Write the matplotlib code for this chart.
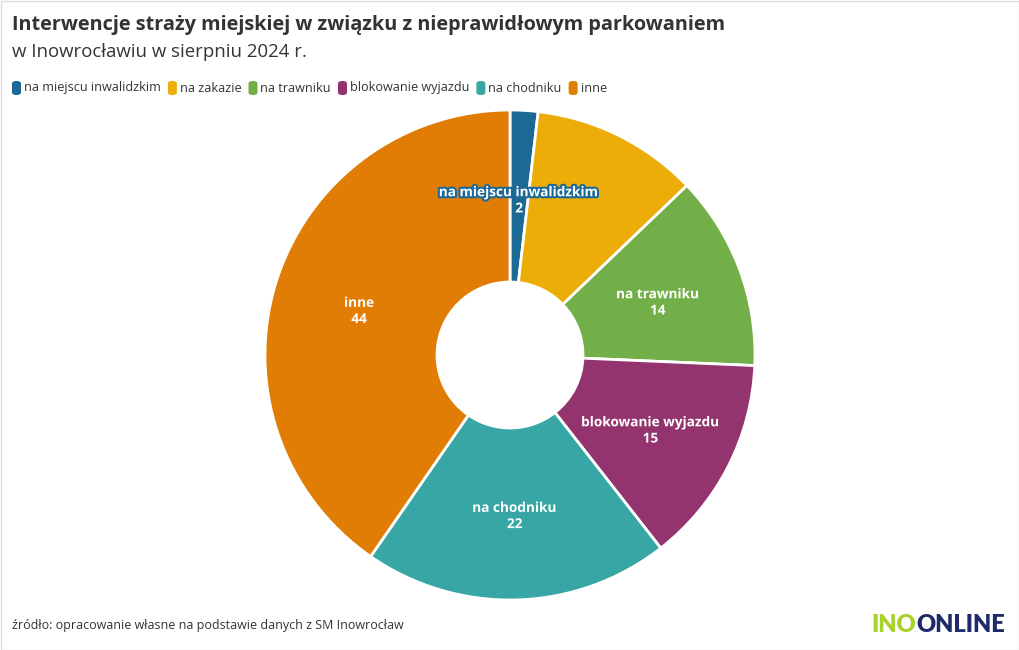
import matplotlib
matplotlib.use("Agg")
import matplotlib.pyplot as plt
import matplotlib.patheffects as pe
from matplotlib.patches import FancyBboxPatch, Rectangle
import numpy as np

categories = ["na miejscu inwalidzkim", "na zakazie", "na trawniku",
              "blokowanie wyjazdu", "na chodniku", "inne"]
values = [2, 12, 14, 15, 22, 44]
show_label = [True, False, True, True, True, True]
colors = ["#1D6996", "#EDAD08", "#73AF48", "#94346E", "#38A6A5", "#E17C05"]

title = "Interwencje straży miejskiej w związku z nieprawidłowym parkowaniem"
subtitle = "w Inowrocławiu w sierpniu 2024 r."
source = "źródło: opracowanie własne na podstawie danych z SM Inowrocław"

FONT = "Open Sans"
W, H = 1020, 650
fig = plt.figure(figsize=(W / 100, H / 100), dpi=100)
fig.patch.set_facecolor("white")

# border
fig.add_artist(Rectangle((0.5 / W, 0.5 / H), 1 - 1.5 / W, 1 - 1.5 / H, transform=fig.transFigure,
                         fill=False, edgecolor="#dddddd", linewidth=1))

def px(x, y):
    return x / W, 1 - y / H

fig.text(*px(12, 25), title, fontsize=14.3, fontweight="bold", color="#333333",
         family=FONT, va="center", ha="left")
fig.text(*px(12, 52), subtitle, fontsize=13.4, color="#333333", family=FONT,
         va="center", ha="left")
fig.text(*px(12, 626), source, fontsize=9.0, color="#333333", family=FONT,
         va="center", ha="left")

# legend
fig.canvas.draw()
renderer = fig.canvas.get_renderer()
x = 12
ly = 88
for name, col in zip(categories, colors):
    box = FancyBboxPatch(((x) / W, 1 - (ly + 7) / H), 9 / W, 14 / H,
                         boxstyle="round,pad=0,rounding_size=0.004",
                         transform=fig.transFigure, facecolor=col, edgecolor="none")
    fig.add_artist(box)
    t = fig.text(*px(x + 12, ly), name, fontsize=9.1, color="#333333", family=FONT,
                 va="center", ha="left")
    bb = t.get_window_extent(renderer)
    x = x + 12 + bb.width + 7

# pie
cx, cy, R = 510, 355, 245
ax = fig.add_axes([(cx - R) / W, (H - cy - R) / H, 2 * R / W, 2 * R / H])
inner = 73 / R
wedges, _ = ax.pie(values, colors=colors, startangle=90, counterclock=False,
                   radius=1, wedgeprops=dict(width=1 - inner, edgecolor="white", linewidth=2))
ax.set_xlim(-1, 1)
ax.set_ylim(-1, 1)
ax.set_aspect("auto")
ax.axis("off")

rmid = 158 / R
for w, name, v, col, show in zip(wedges, categories, values, colors, show_label):
    if not show:
        continue
    ang = np.deg2rad((w.theta1 + w.theta2) / 2)
    lx, ly2 = rmid * np.cos(ang), rmid * np.sin(ang)
    ax.annotate(f"{name}\n{v}", xy=(lx, ly2), xytext=(0, -2.2), textcoords="offset points",
                ha="center", va="center", fontsize=9.8,
                fontweight="bold", color="white", family=FONT, linespacing=1.2,
                path_effects=[pe.withStroke(linewidth=3, foreground=col)])

# logo
fig.text(*px(871, 625), "INO", fontsize=17, fontweight="heavy", color="#A6D22A",
         family="Lato", va="center", ha="left")
fig.text(*px(916, 625), "ONLINE", fontsize=17, fontweight="heavy", color="#1F2A6B",
         family="Lato", va="center", ha="left")

fig.savefig("out.png", dpi=100, facecolor="white")
